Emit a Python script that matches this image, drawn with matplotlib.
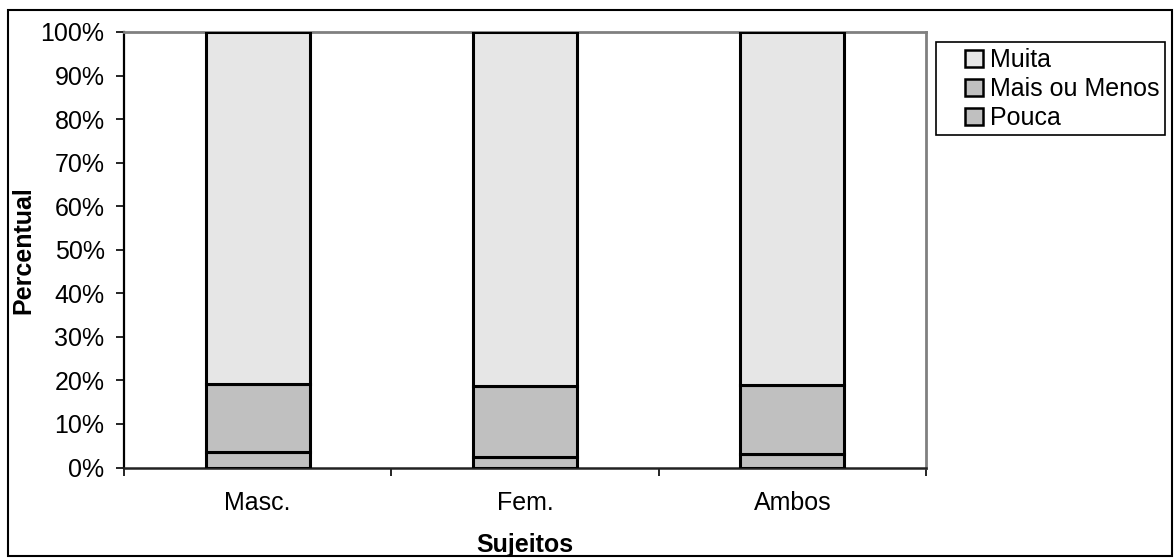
import matplotlib
matplotlib.use("Agg")
import matplotlib.pyplot as plt
from matplotlib.patches import Rectangle, Patch
from matplotlib.ticker import FixedLocator, FuncFormatter

plt.rcParams['font.family'] = ['Liberation Sans', 'DejaVu Sans']

categories = ["Masc.", "Fem.", "Ambos"]
pouca = [3.6, 2.5, 3.1]
mais_ou_menos = [15.6, 16.2, 15.8]
muita = [100 - p - m for p, m in zip(pouca, mais_ou_menos)]
series_names = ["Pouca", "Mais ou Menos", "Muita"]
series_colors = ["#C0C0C0", "#C0C0C0", "#E6E6E6"]
yticks = list(range(0, 101, 10))

FS = 18

fig = plt.figure(figsize=(11.75, 5.59), dpi=100)
ax = fig.add_axes([124 / 1175, 1 - 467.5 / 559, (926 - 124) / 1175, (467.5 - 32) / 559])

x = list(range(len(categories)))
bottom = [0.0] * len(categories)
for vals, col in zip([pouca, mais_ou_menos, muita], series_colors):
    ax.bar(x, vals, bottom=bottom, width=0.39, color=col,
           edgecolor="black", linewidth=2.2, zorder=3)
    bottom = [b + v for b, v in zip(bottom, vals)]

ax.set_xlim(-0.5, len(categories) - 0.5)
ax.set_ylim(0, 100)
ax.set_yticks(yticks)
ax.yaxis.set_major_formatter(FuncFormatter(lambda v, p: f"{int(v)}%"))
ax.set_xticks(x)
ax.set_xticklabels(categories)
ax.xaxis.set_minor_locator(FixedLocator([i - 0.5 for i in range(len(categories) + 1)]))
ax.tick_params(axis="x", which="major", length=0, labelsize=FS, pad=17)
ax.tick_params(axis="x", which="minor", length=6, width=1.2, color="black")
ax.tick_params(axis="y", length=6, width=1.2, color="black", labelsize=FS, pad=8)

for side in ("top", "right"):
    ax.spines[side].set_color("#808080")
    ax.spines[side].set_linewidth(2)
ax.spines["left"].set_color("black")
ax.spines["left"].set_linewidth(1.6)
ax.spines["bottom"].set_color("#222222")
ax.spines["bottom"].set_linewidth(1.8)

ax.set_xlabel("Sujeitos", fontsize=FS, fontweight="bold")
ax.xaxis.set_label_coords(0.5, -(533 - 467.5) / 435.5)
ax.set_ylabel("Percentual", fontsize=FS, fontweight="bold")
ax.yaxis.set_label_coords(-(124 - 35) / 802, 0.5)

# legend: frame drawn separately so it spans to the right edge
fig.patches.append(Rectangle((936 / 1175, 1 - 135 / 559), (1165 - 936) / 1175, (135 - 42) / 559,
                             transform=fig.transFigure, fill=False,
                             edgecolor="black", linewidth=1.2))
handles = [Patch(facecolor=c, edgecolor="black", linewidth=1.8)
           for c in reversed(series_colors)]
leg = fig.legend(handles, list(reversed(series_names)),
                 loc="upper left", bbox_to_anchor=(965 / 1175, 1 - 48 / 559),
                 frameon=False, fontsize=FS,
                 handlelength=0.7, handleheight=0.7, handletextpad=0.3,
                 labelspacing=0.2, borderpad=0.0, borderaxespad=0)

fig.patches.append(Rectangle((8 / 1175, 1 - 556 / 559), (1172 - 8) / 1175, (556 - 10) / 559,
                             transform=fig.transFigure, fill=False,
                             edgecolor="black", linewidth=1.5))

fig.savefig("out.png", dpi=100)
